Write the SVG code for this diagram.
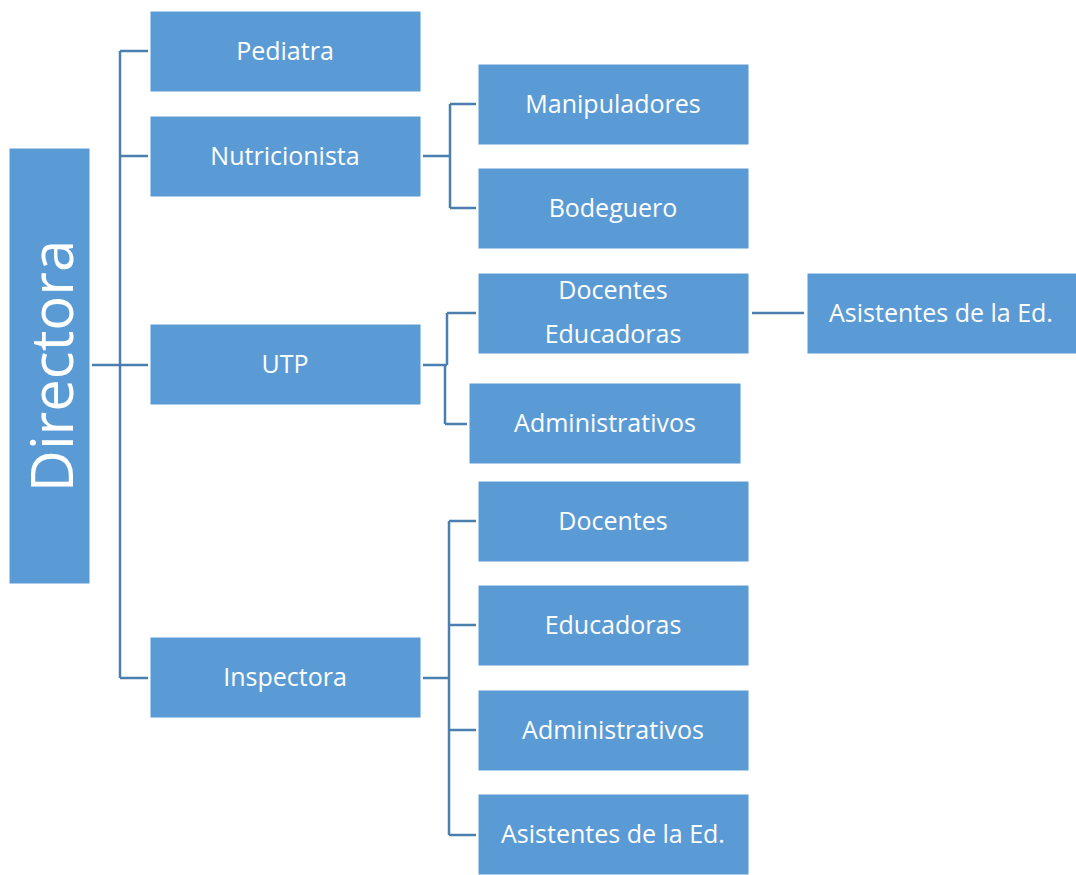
<svg xmlns="http://www.w3.org/2000/svg" width="1076" height="875" viewBox="0 0 1076 875">
<style>
.box{fill:#5b9bd5;stroke:#ffffff;stroke-width:1}
.t{font-family:"Open Sans","Liberation Sans",sans-serif;font-size:25px;fill:#ffffff;text-anchor:middle;dominant-baseline:central}
.c{fill:none;stroke:#4a7fb0;stroke-width:2.5}
</style>
<rect width="1076" height="875" fill="#ffffff"/>
<g id="connectors">
<path class="c" d="M92,365 H120 M120,51 V678 M120,51 H148 M120,156 H148 M120,365 H148 M120,678 H148"/>
<path class="c" d="M423,156 H450 M450,104 V208 M450,104 H476 M450,208 H476"/>
<path class="c" d="M423,365 H447 M447,313 V365 M447,313 H476 M445,365 V424 M445,424 H467"/>
<path class="c" d="M752,313 H804"/>
<path class="c" d="M423,678 H449 M449,521 V835 M449,521 H476 M449,625 H476 M449,730 H476 M449,835 H476"/>
</g>
<g id="directora"><rect class="box" x="9" y="148" width="81" height="436"/><text class="t" transform="translate(50,366) rotate(-90)" style="font-size:58px">Directora</text></g>
<g id="pediatra"><rect class="box" x="150" y="11" width="271" height="81"/><text class="t" x="285" y="50">Pediatra</text></g>
<g id="nutricionista"><rect class="box" x="150" y="116" width="271" height="81"/><text class="t" x="285" y="155">Nutricionista</text></g>
<g id="utp"><rect class="box" x="150" y="324" width="271" height="81"/><text class="t" x="285" y="363">UTP</text></g>
<g id="inspectora"><rect class="box" x="150" y="637" width="271" height="81"/><text class="t" x="285" y="676">Inspectora</text></g>
<g id="manipuladores"><rect class="box" x="478" y="64" width="271" height="81"/><text class="t" x="613" y="103">Manipuladores</text></g>
<g id="bodeguero"><rect class="box" x="478" y="168" width="271" height="81"/><text class="t" x="613" y="207">Bodeguero</text></g>
<g id="docentes-educadoras"><rect class="box" x="478" y="273" width="271" height="81"/><text class="t" x="613" y="289">Docentes</text><text class="t" x="613" y="333">Educadoras</text></g>
<g id="asistentes-1"><rect class="box" x="807" y="273" width="270" height="81"/><text class="t" x="941" y="312">Asistentes de la Ed.</text></g>
<g id="administrativos-1"><rect class="box" x="469" y="383" width="272" height="81"/><text class="t" x="605" y="422">Administrativos</text></g>
<g id="docentes"><rect class="box" x="478" y="481" width="271" height="81"/><text class="t" x="613" y="520">Docentes</text></g>
<g id="educadoras"><rect class="box" x="478" y="585" width="271" height="81"/><text class="t" x="613" y="624">Educadoras</text></g>
<g id="administrativos-2"><rect class="box" x="478" y="690" width="271" height="81"/><text class="t" x="613" y="729">Administrativos</text></g>
<g id="asistentes-2"><rect class="box" x="478" y="794" width="271" height="81"/><text class="t" x="613" y="833">Asistentes de la Ed.</text></g>
</svg>
